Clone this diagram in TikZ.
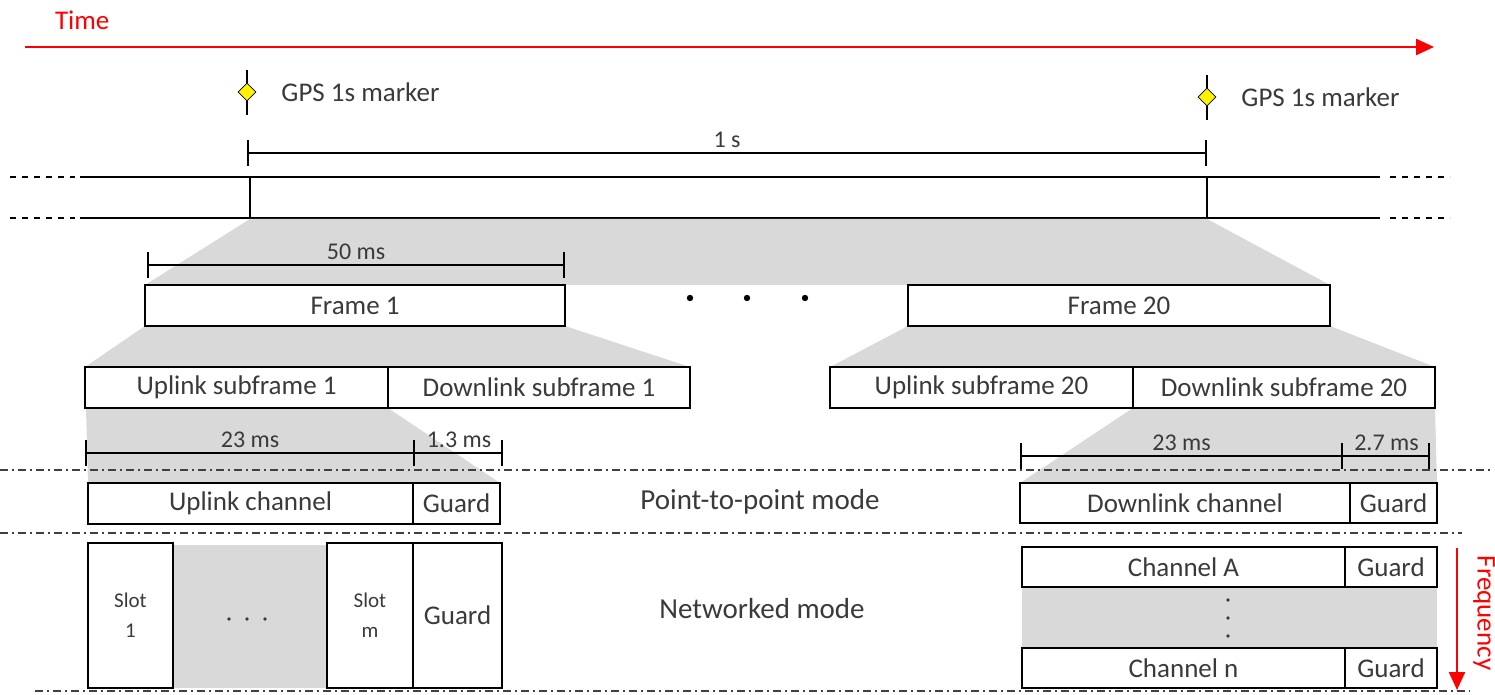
\documentclass[tikz,border=0pt]{standalone}
\usepackage{fontspec}
\setmainfont{Carlito}
\usetikzlibrary{arrows.meta,shapes.geometric,fit,positioning}
\definecolor{fadegray}{HTML}{D9D9D9}
\definecolor{ink}{HTML}{3A3A3A}
\tikzset{
  box/.style={draw=black, line width=1pt, fill=white, inner sep=0pt},
  boxtext/.style={label={[text=ink]center:#1}},
  dim/.style={line width=1pt, {Bar[width=13pt]}-{Bar[width=13pt]}},
  dimcont/.style={line width=1pt, -{Bar[width=13pt]}},
  dimlbl/.style={text=ink, inner sep=1pt, font=\fontsize{12}{14}\selectfont},
  sep/.style={black!75, line width=1.1pt, dash pattern=on 4pt off 2pt on 1pt off 2pt},
  marker/.style={diamond, draw=black, fill=yellow, minimum size=9pt, inner sep=0pt},
  mode/.style={text=ink, font=\fontsize{14.5}{17}\selectfont},
  slottext/.style={label={[text=ink, align=center, font=\fontsize{10.5}{15}\selectfont]center:#1}},
}
\begin{document}
\begin{tikzpicture}[x=0.5pt, y=-0.5pt, font=\fontsize{13.5}{16}\selectfont]
\useasboundingbox (0,0) rectangle (1495,695);

% time axis
\node[text=red, anchor=west] (time) at (48,20) {Time};
\coordinate (t0) at (25,47);
\coordinate (t1) at (1434,47);
\draw[red, line width=1.2pt, -{Triangle[length=9pt,width=8pt]}] (t0) -- (t1);

% GPS markers
\coordinate (m1) at (247,92);
\coordinate (m2) at (1207,97);
\draw[line width=1.4pt] (m1) +(0,-22) -- +(0,23);
\draw[line width=1.4pt] (m2) +(0,-22) -- +(0,23);
\node[marker] (gps1) at (m1) {};
\node[marker] (gps2) at (m2) {};
\node[text=ink, right=9pt of gps1] (gps1lbl) {GPS 1s marker};
\node[text=ink, right=9pt of gps2] (gps2lbl) {GPS 1s marker};

% one second
\coordinate (s0) at (247,153);
\coordinate (s1) at (1207,153);
\draw[dim] (s0) -- (s1) node[midway, above=1pt, dimlbl] (l1s) {1 s};

% timeline
\draw[line width=1pt, dashed] (10,177) -- (75,177);
\draw[line width=1pt, dashed] (10,218) -- (75,218);
\draw[line width=1pt, dashed] (1390,177) -- (1450,177);
\draw[line width=1pt, dashed] (1390,218) -- (1450,218);
\draw[line width=1pt] (80,177) -- (1380,177);
\draw[line width=1pt] (80,218) -- (1380,218);
\draw[line width=1pt] (250,177) -- (250,218);
\draw[line width=1pt] (1207,177) -- (1207,218);

% shading
\fill[fadegray] (250,219) -- (1207,219) -- (1330,285) -- (145,285) -- cycle;
\fill[fadegray] (145,326) -- (565,326) -- (690,367) -- (85,367) -- cycle;
\fill[fadegray] (908,326) -- (1330,326) -- (1435,367) -- (830,367) -- cycle;
\fill[fadegray] (86,408) -- (388,408) -- (500,483) -- (88,483) -- cycle;
\fill[fadegray] (1133,408) -- (1435,408) -- (1437,483) -- (1020,483) -- cycle;
\fill[fadegray] (173,545) rectangle (327,688);
\fill[fadegray] (1022,587) rectangle (1437,648);

% frames
\draw[dim] (147,265) -- (565,265) node[midway, above=1pt, dimlbl] (l50) {50 ms};
\node[box, fit={(145,285) (565,326)}, boxtext={Frame 1}] (frame1) {};
\node[box, fit={(908,285) (1330,326)}, boxtext={Frame 20}] (frame20) {};
\foreach \x in {690,747,805} \fill (\x,298) circle (3.2);

% subframes
\node[box, fit={(85,367) (388,408)}, boxtext={Uplink subframe 1}] (up1) {};
\node[box, fit={(388,367) (690,408)}, boxtext={Downlink subframe 1}] (down1) {};
\node[box, fit={(830,367) (1133,408)}, boxtext={Uplink subframe 20}] (up20) {};
\node[box, fit={(1133,367) (1435,408)}, boxtext={Downlink subframe 20}] (down20) {};

\draw[dim] (85,453) -- (415,453) node[midway, above=1pt, dimlbl] (l23a) {23 ms};
\draw[dimcont] (415,453) -- (503,453) node[midway, above=1pt, dimlbl] (l13) {1.3 ms};
\draw[dim] (1020,456) -- (1343,456) node[midway, above=1pt, dimlbl] (l23b) {23 ms};
\draw[dimcont] (1343,456) -- (1430,456) node[midway, above=1pt, dimlbl] (l27) {2.7 ms};

% mode separators
\draw[sep] (0,470) -- (1492,470);
\draw[sep] (0,533) -- (1462,533);
\draw[sep] (35,691) -- (1470,691);

% point-to-point mode
\node[box, fit={(88,483) (413,524)}, boxtext={Uplink channel}] (upch) {};
\node[box, fit={(413,483) (500,524)}, boxtext={Guard}] (upguard) {};
\node[mode] (p2p) at (760,502) {Point-to-point mode};
\node[box, fit={(1020,483) (1350,523)}, boxtext={Downlink channel}] (downch) {};
\node[box, fit={(1350,483) (1437,523)}, boxtext={Guard}] (downguard) {};

% networked mode
\node[box, fit={(88,543) (173,688)}, slottext={Slot\\1}] (slot1) {};
\foreach \x in {229,247,265} \fill[ink] (\x,619) circle (1.8);
\node[box, fit={(327,543) (413,688)}, slottext={Slot\\m}] (slotm) {};
\node[box, fit={(413,543) (502,688)}, boxtext={Guard}] (slotguard) {};
\node[mode] (net) at (762,609) {Networked mode};
\node[box, fit={(1022,547) (1345,587)}, boxtext={Channel A}] (chA) {};
\node[box, fit={(1345,547) (1437,587)}, boxtext={Guard}] (chAguard) {};
\foreach \y in {600,618,636} \fill[ink] (1228,\y) circle (1.8);
\node[box, fit={(1022,648) (1345,688)}, boxtext={Channel n}] (chN) {};
\node[box, fit={(1345,648) (1437,688)}, boxtext={Guard}] (chNguard) {};

% frequency axis
\coordinate (f0) at (1457,548);
\coordinate (f1) at (1457,690);
\draw[red, line width=1.2pt, -{Triangle[length=9pt,width=8pt]}] (f0) -- (f1);
\node[text=red, rotate=-90] (freq) at (1484,613) {Frequency};
\end{tikzpicture}
\end{document}
